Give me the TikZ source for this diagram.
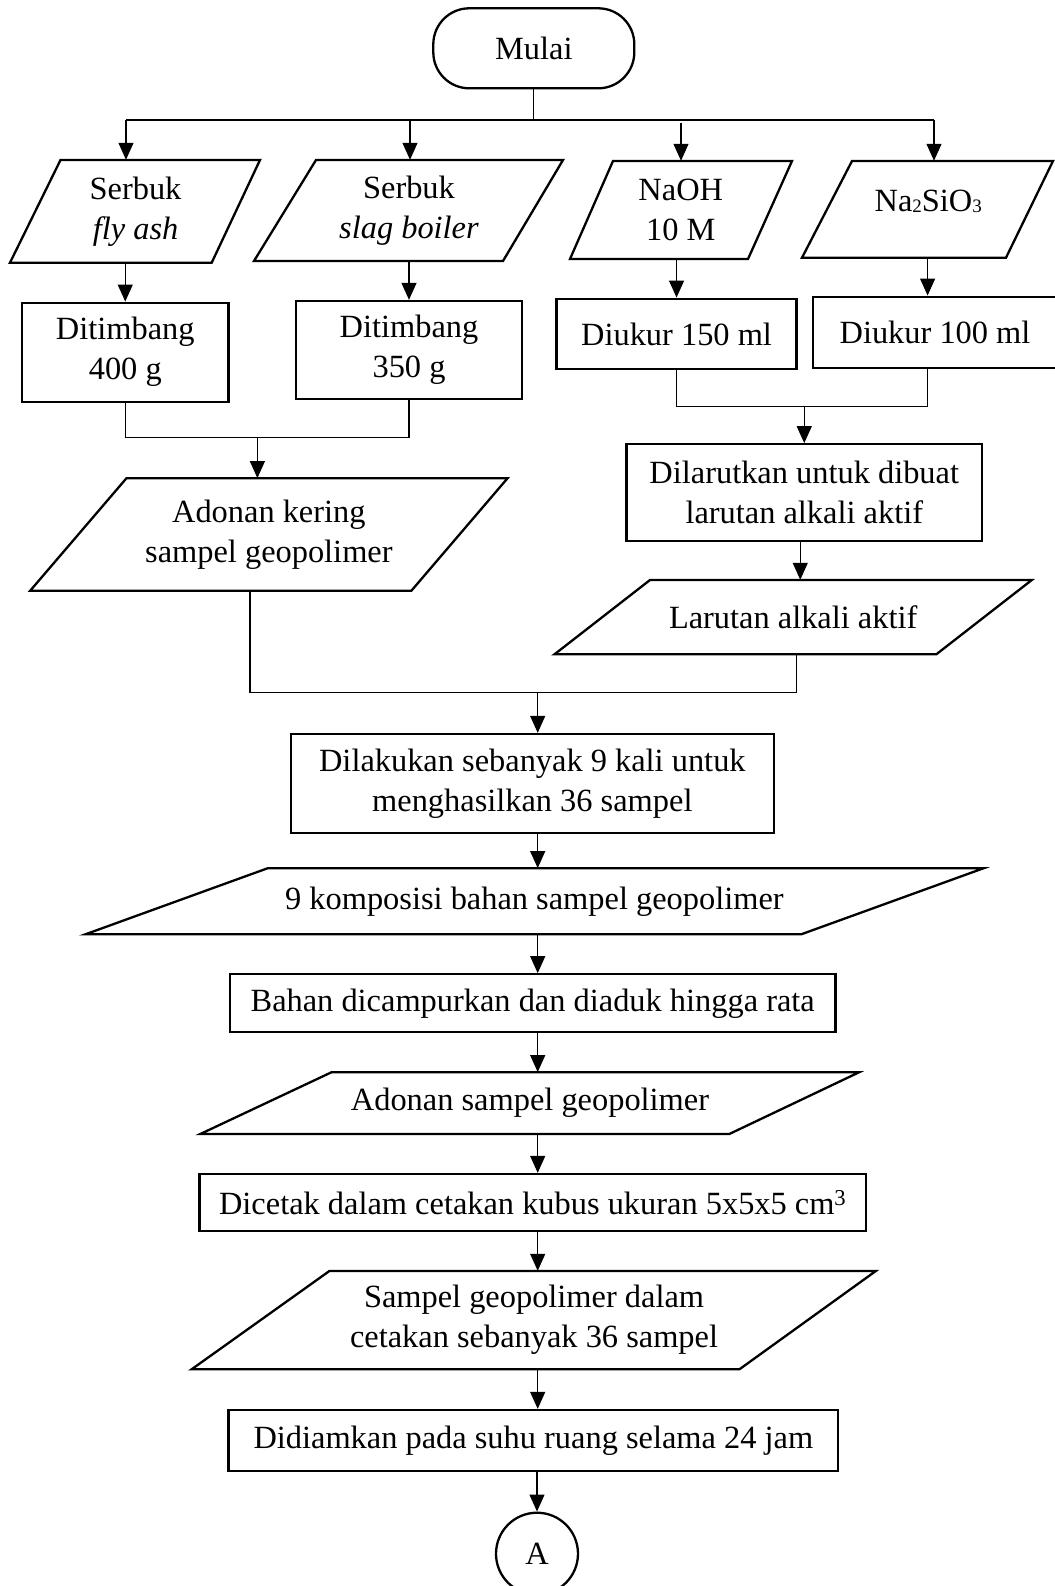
\documentclass[tikz,border=0pt]{standalone}
\usepackage{fontspec}
\setmainfont{Liberation Serif}
\usetikzlibrary{arrows.meta,calc}
\newcommand\pgrm[9]{%
  \draw[pg] (#2,#6) -- (#3,#6) -- (#5,#7) -- (#4,#7) -- cycle;
  \node[txt, minimum width={#3pt-#2pt}, minimum height={#7pt-#6pt}, #8] (#1) at ({(#2+#3+#4+#5)/4},{(#6+#7)/2}) {#9};
}
\newcommand\lowsub[1]{\raisebox{-1.5pt}{\fontsize{19}{19}\selectfont #1}}
\begin{document}
\begin{tikzpicture}[x=1pt,y=-1pt,
  txt/.style={inner sep=0pt, align=center, font=\fontsize{32.4}{40}\selectfont},
  box/.style={txt, draw, line width=2.3pt},
  pg/.style={line width=2.3pt, line join=miter},
  con/.style={line width=1.2pt},
  arr/.style={con, -{Triangle[width=15pt,length=17pt]}},
]
\useasboundingbox (0,0) rectangle (1054,1586);

% start
\node[box, rounded corners=36pt, minimum width=201pt, minimum height=80pt] (mulai) at (533.8,48.3) {Mulai};

% inputs
\pgrm{fly}{60.5}{260}{10}{211.7}{160}{262.7}{}{Serbuk\\\textit{fly ash}}
\pgrm{slag}{316}{563}{254}{503}{160}{261}{}{Serbuk\\\textit{slag boiler}}
\pgrm{naoh}{613}{792}{570}{748}{161}{259}{}{NaOH\\10 M}
\pgrm{sio}{852}{1053}{802}{1006}{161}{257.7}{text depth=18pt}{Na\lowsub{2}SiO\lowsub{3}}

% measuring
\node[box, minimum width=206.5pt, minimum height=99pt] (dit1) at (125.25,352.2) {Ditimbang\\400 g};
\node[box, minimum width=226pt, minimum height=98.3pt] (dit2) at (409,350.15) {Ditimbang\\350 g};
\node[box, minimum width=240pt, minimum height=70.6pt] (uk1) at (676.55,334) {Diukur 150 ml};
\node[box, minimum width=244.6pt, minimum height=71pt] (uk2) at (935,332.2) {Diukur 100 ml};

\node[box, minimum width=355.5pt, minimum height=96.4pt] (dil) at (804.25,492.5) {Dilarutkan untuk dibuat\\larutan alkali aktif};
\pgrm{adk}{126.4}{507.5}{30.2}{411.4}{478.3}{590.7}{}{Adonan kering\\sampel geopolimer}
\pgrm{lar}{650}{1031.8}{554.5}{936.3}{580}{654.3}{}{Larutan alkali aktif}

% main column
\node[box, minimum width=482.7pt, minimum height=98.7pt] (dila) at (532.35,783.35) {Dilakukan sebanyak 9 kali untuk\\menghasilkan 36 sampel};
\pgrm{komp}{267.5}{983.4}{85.4}{801.2}{868.3}{934.3}{}{9 komposisi bahan sampel geopolimer}
\node[box, minimum width=605.6pt, minimum height=58pt] (bahan) at (532.7,1003.3) {Bahan dicampurkan dan diaduk hingga rata};
\pgrm{ads}{331.4}{859}{200.3}{729.3}{1072.3}{1134}{}{Adonan sampel geopolimer}
\node[box, minimum width=666.2pt, minimum height=57pt] (cetak) at (532.7,1202.5) {Dicetak dalam cetakan kubus ukuran 5x5x5 cm\textsuperscript{3}};
\pgrm{samp}{329.4}{875.8}{191.6}{739.4}{1271}{1369.3}{}{Sampel geopolimer dalam\\cetakan sebanyak 36 sampel}
\node[box, minimum width=609.7pt, minimum height=60.7pt] (didi) at (533.35,1440.35) {Didiamkan pada suhu ruang selama 24 jam};
\node[box, circle, minimum size=82pt] (A) at (537,1553.7) {A};

% top split
\coordinate (t0) at (mulai.south |- 0,120);
\coordinate (t1) at (126,120);
\coordinate (t2) at (410,120);
\coordinate (t3) at (681,122.7);
\coordinate (t4) at (934,120);
\draw[con] (mulai.south) -- (t0);
\draw[con] (t1) -- (t4);
\draw[arr] (t1) -- (t1 |- fly.north);
\draw[arr] (t2) -- (t2 |- slag.north);
\draw[arr] (t3) -- (t3 |- naoh.north);
\draw[arr] (t4) -- (t4 |- sio.north);

% inputs to measuring
\draw[arr] (dit1.north |- fly.south) -- (dit1.north);
\draw[arr] (dit2.north |- slag.south) -- (dit2.north);
\draw[arr] (uk1.north |- naoh.south) -- (uk1.north);
\coordinate (u2n) at ([xshift=-7.4pt]uk2.north);
\coordinate (u2s) at ([xshift=-7.4pt]uk2.south);
\draw[arr] (u2n |- sio.south) -- (u2n);

% merge 1
\coordinate (m1) at (257.4,437.7);
\draw[con] (dit1.south) -- (dit1.south |- m1) -- (dit2.south |- m1) -- (dit2.south);
\draw[arr] (m1) -- (m1 |- adk.north);

% merge 2
\coordinate (m2) at (dil.north |- 0,406.7);
\draw[con] (uk1.south) -- (uk1.south |- m2) -- (u2s |- m2) -- (u2s);
\draw[arr] (m2) -- (dil.north);

% dissolve to solution
\coordinate (d1) at ([xshift=-4pt]dil.south);
\draw[arr] (d1) -- (d1 |- lar.north);

% merge 3
\coordinate (a1) at (250,692.3);
\coordinate (a2) at (796.5,692.3);
\coordinate (m3) at (537.7,692.3);
\draw[con] (a1 |- adk.south) -- (a1) -- (a2) -- (a2 |- lar.south);
\draw[arr] (m3) -- (m3 |- dila.north);

% main chain
\coordinate (col) at (537.7,0);
\draw[arr] (col |- dila.south) -- (col |- komp.north);
\draw[arr] (col |- komp.south) -- (col |- bahan.north);
\draw[arr] (col |- bahan.south) -- (col |- ads.north);
\draw[arr] (col |- ads.south) -- (col |- cetak.north);
\draw[arr] (col |- cetak.south) -- (col |- samp.north);
\draw[arr] (col |- samp.south) -- (col |- didi.north);
\draw[arr] (A.north |- didi.south) -- (A.north);
\end{tikzpicture}
\end{document}
